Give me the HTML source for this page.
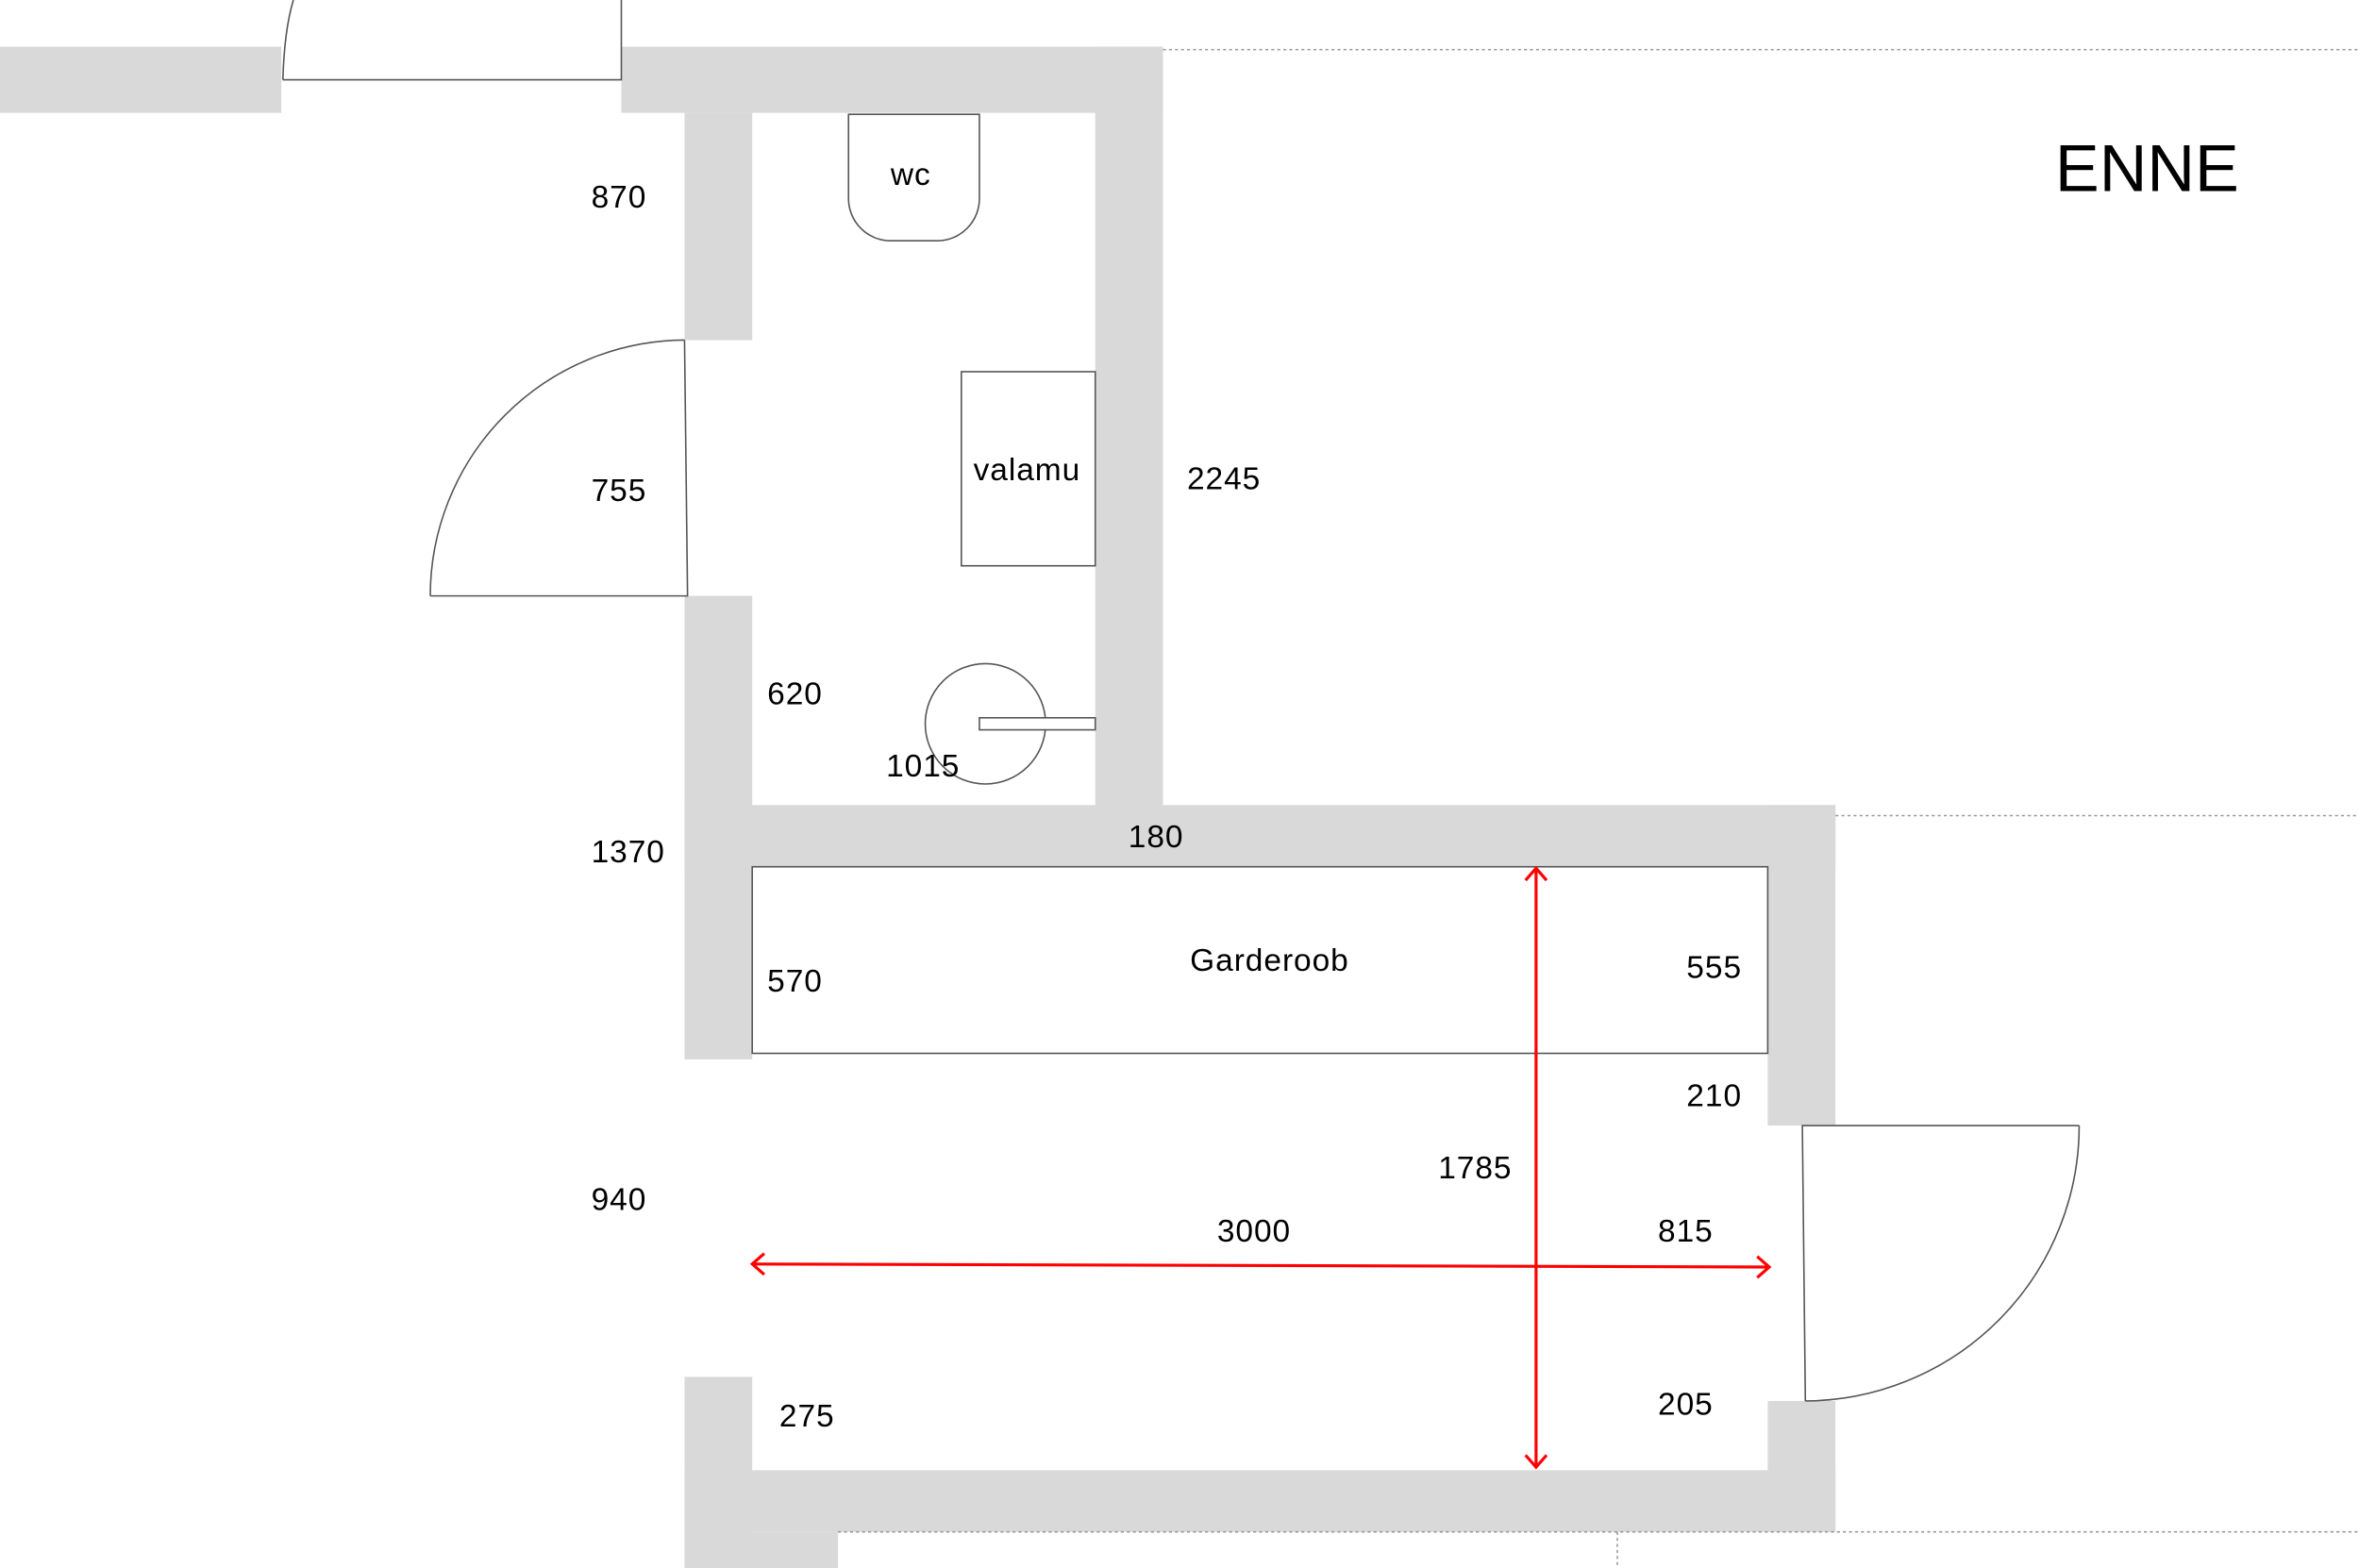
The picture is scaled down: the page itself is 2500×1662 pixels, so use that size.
<!DOCTYPE html>
<html><head><meta charset="utf-8"><style>
html,body{margin:0;padding:0;background:#fff;}
svg{display:block;}
text{font-family:"Liberation Sans",sans-serif;font-size:21px;fill:#000;letter-spacing:0.6px;}
</style></head><body>
<svg width="2500" height="1662" viewBox="0 0 1568 1042" preserveAspectRatio="none" xmlns="http://www.w3.org/2000/svg">
<g fill="#d9d9d9">
<rect x="0" y="31" width="187" height="44"/>
<rect x="413" y="31" width="360" height="44"/>
<rect x="455" y="75" width="45" height="151"/>
<rect x="728" y="31" width="45" height="545"/>
<rect x="455" y="396" width="45" height="308"/>
<rect x="455" y="535" width="765" height="41"/>
<rect x="1175" y="535" width="45" height="213"/>
<rect x="1175" y="931" width="45" height="87"/>
<rect x="455" y="977" width="765" height="41"/>
<rect x="455" y="915" width="45" height="127"/>
<rect x="455" y="1018" width="102" height="24"/>
</g>
<g fill="none" stroke="#999" stroke-width="1" stroke-dasharray="2,2">
<line x1="773" y1="33" x2="1568" y2="33"/>
<line x1="1220" y1="542" x2="1568" y2="542"/>
<line x1="557" y1="1018" x2="1568" y2="1018"/>
<line x1="1075" y1="1018" x2="1075" y2="1042"/>
</g>
<g fill="none" stroke="#555" stroke-width="1">
<path d="M188 53 L413 53 L413 0"/>
<path d="M188 53 Q189 20 195 0"/>
<path d="M455 226 L457 396 L286 396"/>
<path d="M286 396 A170 170 0 0 1 455 226"/>
<path d="M1382 748 L1198 748 L1200 931"/>
<path d="M1382 748 A183 183 0 0 1 1200 931"/>
<path d="M564 76 L651 76 L651 132 A28 28 0 0 1 623 160 L592 160 A28 28 0 0 1 564 132 Z"/>
<rect x="639" y="247" width="89" height="129"/>
<circle cx="655" cy="481" r="40"/>
<rect x="651" y="477" width="77" height="8" fill="#fff"/>
<rect x="500" y="576" width="675" height="124"/>
</g>
<g stroke="#f00" stroke-width="2" fill="none">
<line x1="500" y1="840" x2="1176" y2="842"/>
<path d="M508 833 L500 840 L508 847"/>
<path d="M1168 835 L1176 842 L1168 849"/>
<line x1="1021" y1="577" x2="1021" y2="975"/>
<path d="M1014 585 L1021 577 L1028 585"/>
<path d="M1014 967 L1021 975 L1028 967"/>
</g>
<text x="592" y="123">wc</text>
<text x="647" y="319">valamu</text>
<text x="393" y="138">870</text>
<text x="393" y="333">755</text>
<text x="789" y="325">2245</text>
<text x="510" y="468">620</text>
<text x="589" y="516">1015</text>
<text x="393" y="573">1370</text>
<text x="750" y="563">180</text>
<text x="791" y="645">Garderoob</text>
<text x="510" y="659">570</text>
<text x="1121" y="650">555</text>
<text x="1121" y="735">210</text>
<text x="956" y="783">1785</text>
<text x="393" y="804">940</text>
<text x="809" y="825">3000</text>
<text x="1102" y="825">815</text>
<text x="518" y="948">275</text>
<text x="1102" y="940">205</text>
<text x="1366" y="127" style="font-size:44px;letter-spacing:0">ENNE</text>
</svg>
</body></html>
